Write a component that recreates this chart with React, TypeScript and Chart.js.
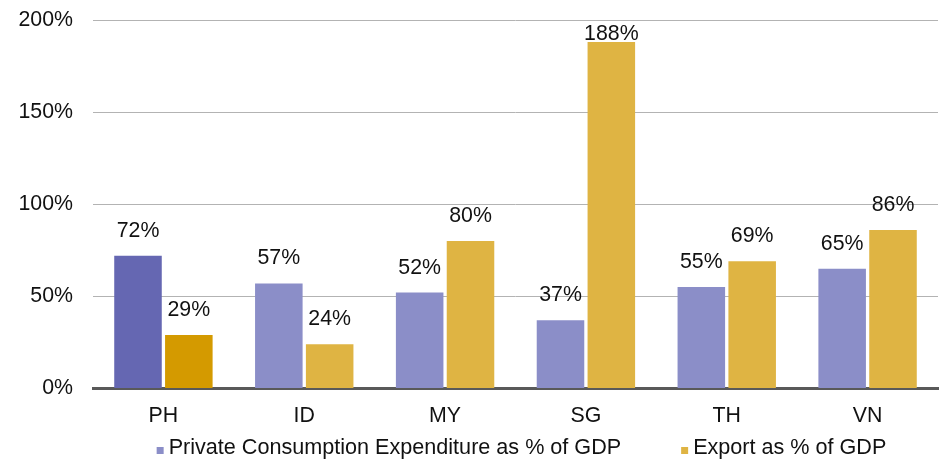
import React, { useEffect, useRef } from "react";
import { Chart, registerables } from "chart.js";

Chart.register(...registerables);

const categories = ["PH", "ID", "MY", "SG", "TH", "VN"];
const consumptionValues = [72, 57, 52, 37, 55, 65];
const exportValues = [29, 24, 80, 188, 69, 86];
const seriesNames = ["Private Consumption Expenditure as % of GDP", "Export as % of GDP"];
const yTicks = [0, 50, 100, 150, 200];

const purpleMain = "#8B8EC8";
const purpleHi = "#6567B2";
const goldMain = "#DFB443";
const goldHi = "#D49A00";

const FONT = "'Liberation Sans', Arial, sans-serif";
const FS = 21.33;
const LEGEND_FS = 21.6;

const labelPlugin = {
  id: "barLabels",
  afterDatasetsDraw(chart: any) {
    const ctx = chart.ctx;
    const area = chart.chartArea;
    ctx.save();
    ctx.font = `${FS}px ${FONT}`;
    ctx.fillStyle = "#111";
    ctx.textAlign = "center";
    ctx.textBaseline = "middle";
    chart.data.datasets.forEach((ds: any, di: number) => {
      const meta = chart.getDatasetMeta(di);
      meta.data.forEach((bar: any, i: number) => {
        const y = Math.max(bar.y - 25, area.top + 14);
        ctx.fillText(ds.data[i] + "%", bar.x, y);
      });
    });
    ctx.restore();
  },
};

const legendPlugin = {
  id: "customLegend",
  afterDraw(chart: any) {
    const ctx = chart.ctx;
    const area = chart.chartArea;
    ctx.save();
    ctx.font = `${LEGEND_FS}px ${FONT}`;
    ctx.textBaseline = "alphabetic";
    ctx.textAlign = "left";
    const box = 7;
    const gapBox = 5;
    const gapItem = 60;
    const widths = chart.data.datasets.map((ds: any) => box + gapBox + ctx.measureText(ds.label).width);
    const total = widths.reduce((a: number, b: number) => a + b, 0) + gapItem * (widths.length - 1);
    let x = (area.left + area.right) / 2 + 6 - total / 2;
    const baseline = chart.height - 5;
    chart.data.datasets.forEach((ds: any, i: number) => {
      ctx.fillStyle = i === 0 ? purpleMain : goldMain;
      ctx.fillRect(x, baseline - box, box, box);
      ctx.fillStyle = "#111";
      ctx.fillText(ds.label, x + box + gapBox, baseline);
      x += widths[i] + gapItem;
    });
    ctx.restore();
  },
};

export default function App() {
  const ref = useRef<HTMLCanvasElement>(null);
  useEffect(() => {
    if (!ref.current) return;
    const chart = new Chart(ref.current, {
      type: "bar",
      data: {
        labels: categories,
        datasets: [
          {
            label: seriesNames[0],
            data: consumptionValues,
            backgroundColor: categories.map((_, i) => (i === 0 ? purpleHi : purpleMain)),
            categoryPercentage: 0.722,
            barPercentage: 0.935,
          },
          {
            label: seriesNames[1],
            data: exportValues,
            backgroundColor: categories.map((_, i) => (i === 0 ? goldHi : goldMain)),
            categoryPercentage: 0.722,
            barPercentage: 0.935,
          },
        ],
      },
      options: {
        animation: false,
        responsive: true,
        maintainAspectRatio: false,
        layout: { padding: { top: 12, right: 5, bottom: 15, left: 0 } },
        plugins: { legend: { display: false }, tooltip: { enabled: false } },
        scales: {
          x: {
            grid: { display: false, drawTicks: false },
            border: { display: true, color: "#595959", width: 3 },
            ticks: { color: "#111", font: { family: FONT, size: FS }, padding: 15 },
          },
          y: {
            min: 0,
            max: 200,
            afterFit: (scale: any) => {
              scale.width = 85;
              scale.paddingTop = 0;
              scale.paddingBottom = 0;
            },
            afterBuildTicks: (scale: any) => {
              scale.ticks = yTicks.map((v) => ({ value: v }));
            },
            grid: { color: "#B3B3B3", lineWidth: 1, drawTicks: false },
            border: { display: false },
            ticks: {
              color: "#111",
              font: { family: FONT, size: FS },
              padding: 20,
              callback: (v: any) => v + "%",
            },
          },
        },
      },
      plugins: [labelPlugin, legendPlugin],
    });
    return () => chart.destroy();
  }, []);
  return (
    <div style={{ position: "absolute", left: 8, top: 8, width: 935, height: 451 }}>
      <canvas ref={ref} />
    </div>
  );
}
